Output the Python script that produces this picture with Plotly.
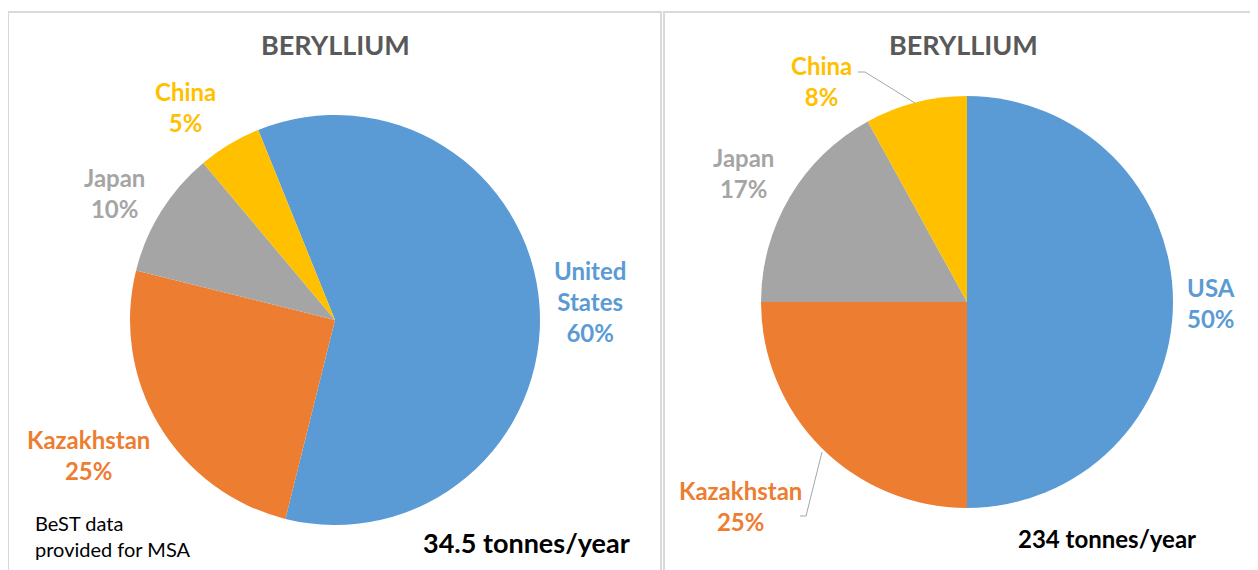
import plotly.graph_objects as go

W, H = 1258, 570
OFF = 8  # page body margin in the browser
FW, FH = W - OFF, H - OFF

# Data
left_labels = ["United States", "Kazakhstan", "Japan", "China"]
left_values = [60, 25, 10, 5]
right_labels = ["USA", "Kazakhstan", "Japan", "China"]
right_values = [50, 25, 17, 8]
colors = ["#5B9BD5", "#ED7D31", "#A5A5A5", "#FFC000"]
title_text = "BERYLLIUM"
left_total = "34.5 tonnes/year"
right_total = "234 tonnes/year"
note_text = "BeST data<br>provided for MSA"

FONT = "Lato"


def px(x):
    return (x - OFF) / FW


def py(y):
    return 1 - (y - OFF) / FH


def pie_domain(cx, cy, r):
    return dict(x=[px(cx - r), px(cx + r)], y=[py(cy + r), py(cy - r)])


fig = go.Figure()
fig.add_trace(go.Pie(
    labels=left_labels, values=left_values, sort=False, direction="clockwise",
    rotation=-22, marker=dict(colors=colors), textinfo="none", hoverinfo="label+percent",
    domain=pie_domain(335, 320, 205), showlegend=False,
))
fig.add_trace(go.Pie(
    labels=right_labels, values=right_values, sort=False, direction="clockwise",
    rotation=0, marker=dict(colors=colors), textinfo="none", hoverinfo="label+percent",
    domain=pie_domain(967, 302, 206), showlegend=False,
))

annotations = []


def lab(x, y, text, color, size=24, bold=True, align="center", xanchor="center"):
    t = f"<b>{text}</b>" if bold else text
    annotations.append(dict(
        x=px(x), y=py(y), xref="paper", yref="paper", text=t, showarrow=False,
        font=dict(family=FONT, size=size, color=color), align=align,
        xanchor=xanchor, yanchor="middle",
    ))


def pct(v, tot):
    return f"{round(100 * v / tot)}%"


lt = sum(left_values)
rt = sum(right_values)

# titles
lab(335, 45, title_text, "#595959", size=27)
lab(963, 45, title_text, "#595959", size=27)

# left labels
lab(590, 301, "United<br>States<br>" + pct(left_values[0], lt), colors[0])
lab(88, 455, left_labels[1] + "<br>" + pct(left_values[1], lt), colors[1])
lab(114, 193, left_labels[2] + "<br>" + pct(left_values[2], lt), colors[2])
lab(185, 107, left_labels[3] + "<br>" + pct(left_values[3], lt), colors[3])

# right labels
lab(1211, 303, right_labels[0] + "<br>" + pct(right_values[0], rt), colors[0])
lab(740, 506, right_labels[1] + "<br>" + pct(right_values[1], rt), colors[1])
lab(743, 173, right_labels[2] + "<br>" + pct(right_values[2], rt), colors[2])
lab(821, 81, right_labels[3] + "<br>" + pct(right_values[3], rt), colors[3])

# totals and note
lab(632, 542, left_total, "#000000", size=27, xanchor="right")
lab(1198, 538, right_total, "#000000", size=24, xanchor="right")
lab(33, 536, note_text, "#000000", size=20, bold=False, align="left", xanchor="left")

shapes = [
    dict(type="rect", xref="paper", yref="paper", x0=px(8), x1=px(661), y0=py(H + 5), y1=py(12),
         line=dict(color="#D9D9D9", width=2), fillcolor="rgba(0,0,0,0)", layer="below"),
    dict(type="rect", xref="paper", yref="paper", x0=px(664), x1=px(W + 5), y0=py(H + 5), y1=py(12),
         line=dict(color="#D9D9D9", width=2), fillcolor="rgba(0,0,0,0)", layer="below"),
    # leader lines (right chart)
    dict(type="path", xref="paper", yref="paper",
         path=f"M {px(858)} {py(72)} L {px(865)} {py(72)} L {px(915)} {py(103)}",
         line=dict(color="#A6A6A6", width=1)),
    dict(type="path", xref="paper", yref="paper",
         path=f"M {px(800)} {py(516)} L {px(806)} {py(516)} L {px(822)} {py(452)}",
         line=dict(color="#A6A6A6", width=1)),
]

fig.update_layout(
    width=FW, height=FH, margin=dict(l=0, r=0, t=0, b=0),
    paper_bgcolor="white", plot_bgcolor="white",
    annotations=annotations, shapes=shapes,
)

fig.write_html("out.html")
